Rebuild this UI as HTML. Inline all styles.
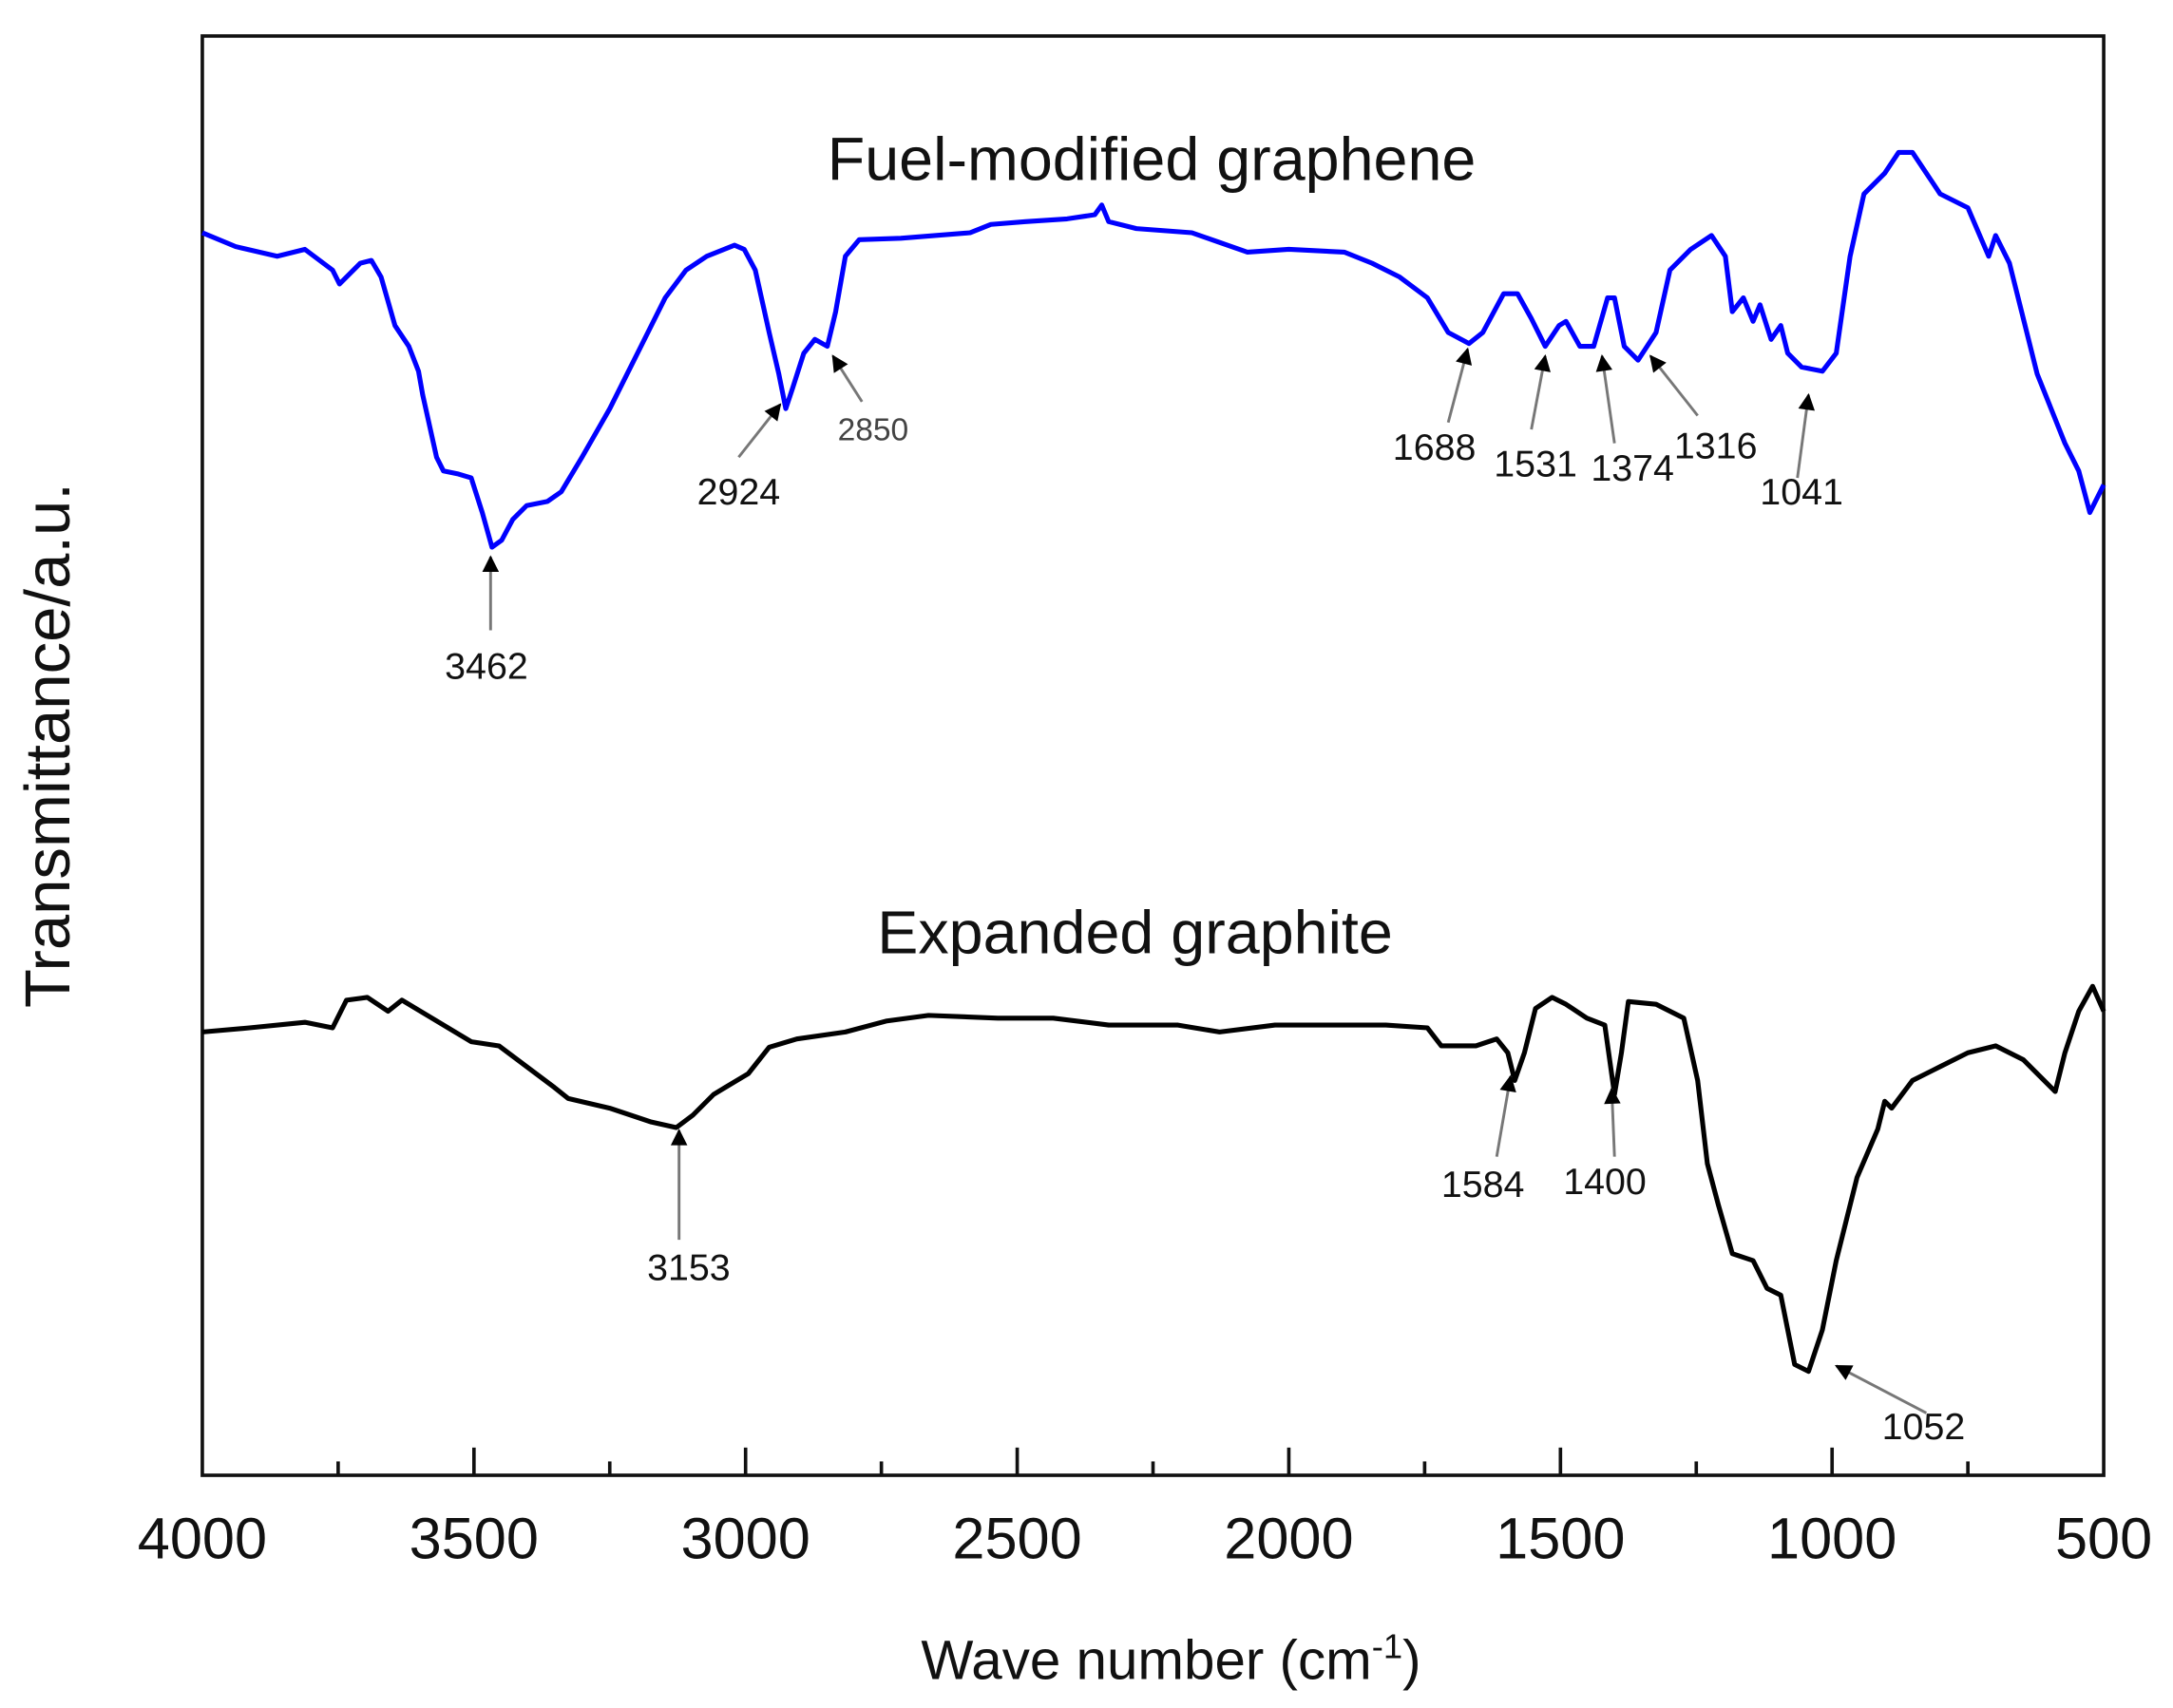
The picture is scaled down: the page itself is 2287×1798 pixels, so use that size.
<!DOCTYPE html>
<html><head><meta charset="utf-8"><style>
html,body{margin:0;padding:0;background:#fff;}
svg{display:block;}
text{font-family:"Liberation Sans",sans-serif;}
</style></head><body>
<svg width="2287" height="1798" viewBox="0 0 1568 1233" preserveAspectRatio="none" xmlns="http://www.w3.org/2000/svg">
<defs>
<marker id="ah" viewBox="0 0 10 10" refX="9" refY="5" markerWidth="9" markerHeight="6" orient="auto" markerUnits="strokeWidth">
<path d="M0,0 L10,5 L0,10 z" fill="#000"/></marker>
</defs>
<rect x="0" y="0" width="1568" height="1233" fill="#fff"/>
<rect x="146" y="26" width="1372" height="1039" fill="none" stroke="#111" stroke-width="2.5"/>
<g stroke="#111" stroke-width="2.5">
<line x1="244" y1="1065" x2="244" y2="1055"/>
<line x1="342" y1="1065" x2="342" y2="1045"/>
<line x1="440" y1="1065" x2="440" y2="1055"/>
<line x1="538" y1="1065" x2="538" y2="1045"/>
<line x1="636" y1="1065" x2="636" y2="1055"/>
<line x1="734" y1="1065" x2="734" y2="1045"/>
<line x1="832" y1="1065" x2="832" y2="1055"/>
<line x1="930" y1="1065" x2="930" y2="1045"/>
<line x1="1028" y1="1065" x2="1028" y2="1055"/>
<line x1="1126" y1="1065" x2="1126" y2="1045"/>
<line x1="1224" y1="1065" x2="1224" y2="1055"/>
<line x1="1322" y1="1065" x2="1322" y2="1045"/>
<line x1="1420" y1="1065" x2="1420" y2="1055"/>
</g>
<g font-size="42" text-anchor="middle" fill="#111">
<text x="146" y="1125">4000</text>
<text x="342" y="1125">3500</text>
<text x="538" y="1125">3000</text>
<text x="734" y="1125">2500</text>
<text x="930" y="1125">2000</text>
<text x="1126" y="1125">1500</text>
<text x="1322" y="1125">1000</text>
<text x="1518" y="1125">500</text>
</g>
<text x="845" y="1212" font-size="40" text-anchor="middle" fill="#111">Wave number (cm<tspan dy="-15" font-size="25">-1</tspan><tspan dy="15">)</tspan></text>
<text transform="translate(50,538) rotate(-90)" font-size="46" text-anchor="middle" fill="#111">Transmittance/a.u.</text>
<text x="831" y="130" font-size="44" text-anchor="middle" fill="#111" textLength="468" lengthAdjust="spacingAndGlyphs">Fuel-modified graphene</text>
<text x="819" y="688" font-size="44" text-anchor="middle" fill="#111" textLength="372" lengthAdjust="spacingAndGlyphs">Expanded graphite</text>
<polyline fill="none" stroke="#0000ff" stroke-width="3.5" stroke-linejoin="round" points="146,168 170,178 200,185 220,180 240,195 245,205 260,190 268,188 275,200 285,235 295,250 302,268 305,285 315,330 320,340 330,342 340,345 348,370 355,395 362,390 370,375 380,365 395,362 405,355 420,330 440,295 460,255 480,215 495,195 510,185 530,177 537,180 545,195 555,240 562,270 567,295 572,280 580,255 588,245 597,250 603,225 610,185 620,173 650,172 700,168 715,162 740,160 770,158 790,155 795,148 800,160 820,165 860,168 880,175 900,182 930,180 970,182 990,190 1010,200 1030,215 1045,240 1060,248 1070,240 1085,212 1095,212 1105,230 1115,250 1125,235 1130,232 1140,250 1150,250 1160,215 1165,215 1172,250 1182,260 1195,240 1205,195 1220,180 1235,170 1245,185 1250,225 1258,215 1265,232 1270,220 1278,245 1285,235 1290,255 1300,265 1315,268 1325,255 1335,185 1345,140 1360,125 1370,110 1380,110 1390,125 1400,140 1420,150 1435,185 1440,170 1450,190 1460,230 1470,270 1480,295 1490,320 1500,340 1508,370 1518,350"/>
<polyline fill="none" stroke="#000" stroke-width="3.5" stroke-linejoin="round" points="146,745 180,742 220,738 240,742 250,722 265,720 280,730 290,722 300,728 320,740 340,752 360,755 380,770 400,785 410,793 440,800 470,810 488,814 500,805 515,790 540,775 555,756 575,750 610,745 640,737 670,733 720,735 760,735 800,740 850,740 880,745 920,740 960,740 1000,740 1030,742 1040,755 1065,755 1080,750 1088,760 1093,780 1100,760 1108,728 1120,720 1130,725 1145,735 1158,740 1165,790 1170,760 1175,723 1195,725 1215,735 1225,780 1232,840 1240,870 1250,905 1265,910 1275,930 1285,935 1295,985 1305,990 1315,960 1325,910 1340,850 1355,815 1360,795 1365,800 1380,780 1400,770 1420,760 1440,755 1460,765 1475,780 1483,788 1490,760 1500,730 1510,712 1518,730"/>
<g stroke="#777" stroke-width="2" marker-end="url(#ah)">
<line x1="354" y1="455" x2="354" y2="402"/>
<line x1="533" y1="330" x2="563" y2="292"/>
<line x1="622" y1="290" x2="601" y2="257"/>
<line x1="1045" y1="305" x2="1059" y2="252"/>
<line x1="1105" y1="310" x2="1115" y2="257"/>
<line x1="1165" y1="320" x2="1156" y2="257"/>
<line x1="1225" y1="300" x2="1191" y2="257"/>
<line x1="1297" y1="345" x2="1305" y2="285"/>
<line x1="490" y1="895" x2="490" y2="816"/>
<line x1="1080" y1="835" x2="1090" y2="777"/>
<line x1="1165" y1="835" x2="1163" y2="786"/>
<line x1="1390" y1="1020" x2="1325" y2="986"/>
</g>
<g font-size="27" text-anchor="middle" fill="#111">
<text x="351" y="490">3462</text>
<text x="533" y="364">2924</text>
<text x="630" y="318" font-size="23" fill="#444">2850</text>
<text x="1035" y="332">1688</text>
<text x="1108" y="344">1531</text>
<text x="1178" y="347">1374</text>
<text x="1238" y="331">1316</text>
<text x="1300" y="364">1041</text>
<text x="497" y="924">3153</text>
<text x="1070" y="864">1584</text>
<text x="1158" y="862">1400</text>
<text x="1388" y="1039">1052</text>
</g>
</svg>
</body></html>
